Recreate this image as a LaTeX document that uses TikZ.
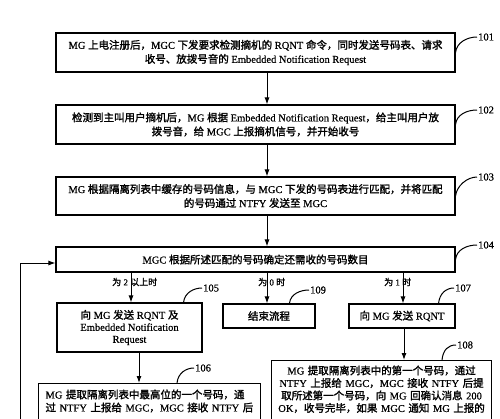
\documentclass[tikz,border=0pt]{standalone}
\usepackage{fontspec}
\setmainfont{Liberation Serif}[FakeBold=0.6]
\newfontfamily\cjkf{Noto Sans CJK SC}[FakeBold=1.6]
\newcommand\zh[1]{{\cjkf #1}}
\usetikzlibrary{arrows.meta,calc}
\begin{document}
\begin{tikzpicture}[x=1pt,y=-1pt,
  box/.style={draw, line width=1.1pt, inner sep=0pt, align=center, font=\fontsize{10.5}{14}\selectfont},
  arr/.style={line width=1pt, -{Latex[length=7pt,width=5pt]}},
  lbl/.style={font=\fontsize{10.5}{12}\selectfont, inner sep=1pt, anchor=west},
  lead/.style={line width=1pt},
  br/.style={font=\fontsize{9}{10}\selectfont, inner sep=0pt, anchor=west}]
\useasboundingbox (0,0) rectangle (500,418);
\clip (0,0) rectangle (500,418);
\coordinate (xm) at (267,0);
\coordinate (xl) at (131,0);
\coordinate (xr) at (403,0);
\coordinate (xa) at (139,0);
\coordinate (xb) at (404,0);
\coordinate (fy) at (0,263);
\coordinate (fb) at (20,440);

\node[box, minimum width=399, minimum height=39] (b101) at (255.5,52.5)
  {MG \zh{上电注册后，}MGC \zh{下发要求检测摘机的} RQNT \zh{命令，同时发送号码表、请求}\\
   \zh{收号、放拨号音的} Embedded Notification Request};
\node[box, minimum width=399, minimum height=39] (b102) at (255.5,124.5)
  {\zh{检测到主叫用户摘机后，}MG \zh{根据} Embedded Notification Request\zh{，给主叫用户放}\\
   \zh{拨号音，给} MGC \zh{上报摘机信号，并开始收号}};
\node[box, minimum width=399, minimum height=38] (b103) at (255.5,196)
  {MG \zh{根据隔离列表中缓存的号码信息，与} MGC \zh{下发的号码表进行匹配，并将匹配}\\
   \zh{的号码通过} NTFY \zh{发送至} MGC};
\node[box, minimum width=399, minimum height=25] (b104) at (255.5,259.5)
  {MGC \zh{根据所述匹配的号码确定还需收的号码数目}};
\node[box, minimum width=145, minimum height=49, font=\fontsize{10.5}{12}\selectfont] (b105) at (129.5,327.5)
  {\zh{向} MG \zh{发送} RQNT \zh{及}\\Embedded Notification\\Request};
\node[box, minimum width=92, minimum height=24] (b109) at (269,316) {\zh{结束流程}};
\node[box, minimum width=106, minimum height=24] (b107) at (402,316) {\zh{向} MG \zh{发送} RQNT};
\node[box, anchor=north west, text width=208, inner xsep=7, inner ysep=6, align=left,
      font=\fontsize{10.5}{13}\selectfont] (b106) at (38,383)
  {MG \zh{提取隔离列表中最高位的一个号码，通}\\
   \zh{过} NTFY \zh{上报给} MGC\zh{，}MGC \zh{接收} NTFY \zh{后}\\
   \rule{0pt}{40pt}};
\node[box, anchor=north west, text width=216, inner xsep=2, inner ysep=5, align=center,
      font=\fontsize{10.5}{12.5}\selectfont] (b108) at (271,360)
  {MG \zh{提取隔离列表中的第一个号码，通过}\\
   NTFY \zh{上报给} MGC\zh{，}MGC \zh{接收} NTFY \zh{后提}\\
   \zh{取所述第一个号码，向} MG \zh{回确认消息} 200\\
   \mbox{OK\zh{，收号完毕，如果} MGC \zh{通知} MG \zh{上报的}}\\
   \rule{0pt}{30pt}};

\draw[arr] (b101.south -| xm) -- (b102.north -| xm);
\draw[arr] (b102.south -| xm) -- (b103.north -| xm);
\draw[arr] (b103.south -| xm) -- (b104.north -| xm);
\draw[arr] (b104.south -| xl) -- (b105.north -| xl);
\draw[arr] (b104.south -| xm) -- (b109.north -| xm);
\draw[arr] (b104.south -| xr) -- (b107.north -| xr);
\draw[arr] (b105.south -| xa) -- (b106.north -| xa);
\draw[arr] (b107.south -| xb) -- (b108.north -| xb);
\draw[arr] (fb) |- (b104.west |- fy);

\node[br] (c2) at (112,282) {\zh{为} 2 \zh{以上时}};
\node[br] (c0) at (258,282) {\zh{为} 0 \zh{时}};
\node[br] (c1) at (384,282) {\zh{为} 1 \zh{时}};

\node[lbl] (t101) at (477,37) {101};
\node[lbl] (t102) at (477,110) {102};
\node[lbl] (t103) at (477,177) {103};
\node[lbl] (t104) at (477,245) {104};
\node[lbl] (t105) at (202,288) {105};
\node[lbl] (t106) at (194,368) {106};
\node[lbl] (t107) at (454,288) {107};
\node[lbl] (t108) at (456,345) {108};
\node[lbl] (t109) at (309,290) {109};

\draw[lead] (b101.east) .. controls +(1,-10) and +(-10,0) .. (t101.west);
\draw[lead] (b102.east) .. controls +(1,-10) and +(-10,0) .. (t102.west);
\draw[lead] (b103.east) .. controls +(1,-10) and +(-10,0) .. (t103.west);
\draw[lead] (b104.east) .. controls +(1,-10) and +(-10,0) .. (t104.west);
\draw[lead] ([xshift=-19pt]b105.north east) .. controls +(1,-10) and +(-8,0) .. (t105.west);
\draw[lead] ([xshift=139pt]b106.north west) .. controls +(1,-10) and +(-8,0) .. (t106.west);
\draw[lead] ([xshift=-17pt]b107.north east) .. controls +(1,-10) and +(-8,0) .. (t107.west);
\draw[lead] ([xshift=171pt]b108.north west) .. controls +(1,-10) and +(-8,0) .. (t108.west);
\draw[lead] ([xshift=67pt]b109.north west) .. controls +(1,-10) and +(-8,0) .. (t109.west);
\end{tikzpicture}
\end{document}
